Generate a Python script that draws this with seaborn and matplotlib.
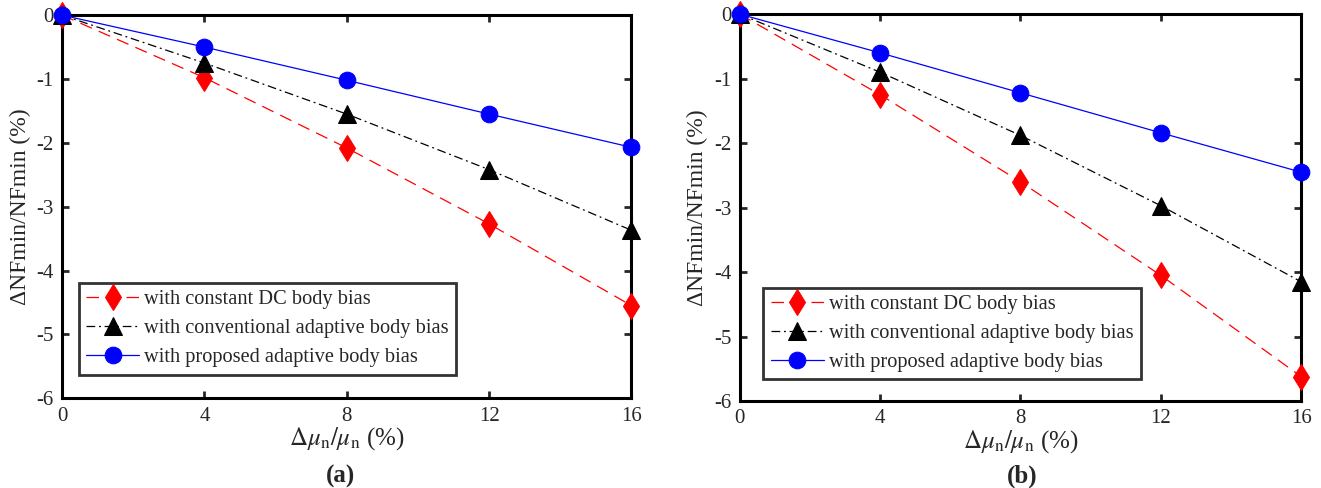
import matplotlib
matplotlib.use("Agg")
import matplotlib.pyplot as plt
import seaborn as sns
import pandas as pd

sns.set_theme(style="white")
plt.rcParams['font.family'] = ['Liberation Serif', 'DejaVu Serif']
plt.rcParams['mathtext.fontset'] = 'stix'

x_vals = [0, 4, 8, 12, 16]
series_names = ["with constant DC body bias",
                "with conventional adaptive body bias",
                "with proposed adaptive body bias"]

a_constant = [0, -0.98, -2.08, -3.27, -4.55]
a_conventional = [0, -0.75, -1.55, -2.42, -3.37]
a_proposed = [0, -0.50, -1.02, -1.55, -2.07]

b_constant = [0, -1.25, -2.60, -4.05, -5.62]
b_conventional = [0, -0.90, -1.88, -2.97, -4.15]
b_proposed = [0, -0.60, -1.22, -1.84, -2.45]

x_ticks = [0, 4, 8, 12, 16]
y_ticks = [0, -1, -2, -3, -4, -5, -6]
panel_labels = ["(a)", "(b)"]

styles = [
    dict(color="red", marker="d", ls=(0, (10, 6)), ms=13),
    dict(color="black", marker="^", ls=(0, (7, 3, 1.5, 3)), ms=12.5),
    dict(color="blue", marker="o", ls="-", ms=12),
]

fig = plt.figure(figsize=(13.21, 4.88), dpi=100)
ax_a = fig.add_axes([0.047, 0.184, 0.431, 0.785])
ax_b = fig.add_axes([0.560, 0.178, 0.425, 0.793])

panels = [
    (ax_a, [a_constant, a_conventional, a_proposed], (0.012, 0.035), 0.2575),
    (ax_b, [b_constant, b_conventional, b_proposed], (0.024, 0.03), 0.7735),
]

for (ax, data, legpos, labx), plab in zip(panels, panel_labels):
    for name, vals, st in zip(series_names, data, styles):
        df = pd.DataFrame({"x": x_vals, "y": vals})
        sns.lineplot(data=df, x="x", y="y", ax=ax, color=st["color"],
                     marker=st["marker"], markersize=st["ms"],
                     markeredgecolor=st["color"], linewidth=0.9,
                     linestyle=st["ls"], label=name, clip_on=False, zorder=5)
    ax.set_xlim(0, 16)
    ax.set_ylim(-6, 0)
    ax.set_xticks(x_ticks)
    ax.set_yticks(y_ticks)
    ax.set_yticklabels([str(t) for t in y_ticks])
    ax.tick_params(direction="in", length=5, width=2, labelsize=15,
                   top=True, right=True, bottom=True, left=True, pad=6)
    for sp in ax.spines.values():
        sp.set_linewidth(2.2)
        sp.set_color("black")
    ax.set_xlabel(r"$\Delta\mu_{\rm n}/\mu_{\rm n}$ (%)", fontsize=18, labelpad=0)
    ax.set_ylabel("ΔNFmin/NFmin (%)", fontsize=17, labelpad=4)
    leg = ax.legend(loc="lower left", bbox_to_anchor=legpos, fontsize=14.7,
                    frameon=True, fancybox=False, edgecolor="black",
                    handlelength=2.6, borderpad=0.35, labelspacing=0.48,
                    handletextpad=0.25)
    leg.get_frame().set_linewidth(2)
    fig.text(labx, 0.024, plab, ha="center", va="center",
             fontsize=18, fontweight="bold")

fig.savefig("out.png", dpi=100)
